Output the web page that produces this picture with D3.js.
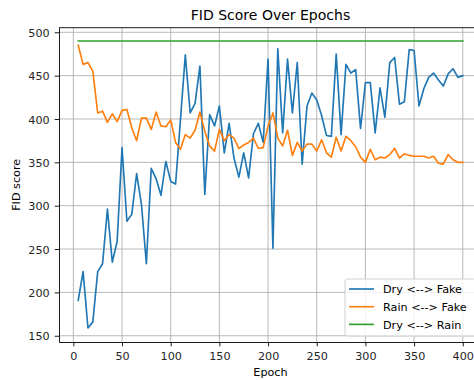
<!DOCTYPE html>
<html>
<head>
<meta charset="utf-8">
<script src="https://cdn.jsdelivr.net/npm/d3@7"></script>
<style>
  html, body { margin: 0; padding: 0; background: #fff; }
  svg { display: block; font-family: "DejaVu Sans", sans-serif; }
</style>
</head>
<body>
<svg id="chart" width="474" height="380"></svg>
<script>
const epochs = [5,10,15,20,25,30,35,40,45,50,55,60,65,70,75,80,85,90,95,100,
  105,110,115,120,125,130,135,140,145,150,155,160,165,170,175,180,185,190,195,200,
  205,210,215,220,225,230,235,240,245,250,255,260,265,270,275,280,285,290,295,300,
  305,310,315,320,325,330,335,340,345,350,355,360,365,370,375,380,385,390,395,400];

const dryFake = [191,224,159,166,224,233,296,235,259,367,282,290,337,301,233,343,331,312,351,328,
  325,399,474,407,418,461,313,405,392,415,361,395,355,333,361,332,383,395,373,469,
  251,481,384,469,407,465,348,415,430,422,404,381,380,475,382,463,453,457,389,442,
  442,384,436,402,465,471,417,420,480,479,415,435,448,453,445,438,452,458,448,450];

const rainFake = [485,463,465,455,407,409,396,406,397,410,411,390,375,401,401,388,408,392,391,399,
  373,365,382,378,387,408,386,369,363,388,375,382,378,366,370,373,378,366,367,392,
  407,378,369,387,358,373,363,371,371,363,376,361,356,379,363,380,375,368,356,350,
  365,353,356,355,359,366,355,360,358,357,357,357,355,357,349,348,359,353,350,350];

const dryRain = [490,490,490,490,490,490,490,490,490,490,490,490,490,490,490,490,490,490,490,490,
  490,490,490,490,490,490,490,490,490,490,490,490,490,490,490,490,490,490,490,490,
  490,490,490,490,490,490,490,490,490,490,490,490,490,490,490,490,490,490,490,490,
  490,490,490,490,490,490,490,490,490,490,490,490,490,490,490,490,490,490,490,490];

const seriesNames = ["Dry <--> Fake", "Rain <--> Fake", "Dry <--> Rain"];
const xTicks = [0,50,100,150,200,250,300,350,400];
const yTicks = [150,200,250,300,350,400,450,500];
const titleText = "FID Score Over Epochs";
const xLabel = "Epoch";
const yLabel = "FID score";

(function () {
const colors = ["#1f77b4", "#ff7f0e", "#2ca02c"];
const series = [dryFake, rainFake, dryRain];

const pL = 59, pR = 482, pT = 27.7, pB = 342;
const x = d3.scaleLinear().domain([-14.75, 419.75]).range([pL, pR]);
const y = d3.scaleLinear().domain([142.8, 505.3]).range([pB, pT]);

const svg = d3.select("#chart");

// grid
const grid = svg.append("g");
grid.selectAll("line.gx").data(xTicks).enter().append("line")
  .attr("x1", d => x(d)).attr("x2", d => x(d))
  .attr("y1", pT).attr("y2", pB)
  .attr("stroke", "#b0b0b0").attr("stroke-width", 0.9);
grid.selectAll("line.gy").data(yTicks).enter().append("line")
  .attr("x1", pL).attr("x2", pR)
  .attr("y1", d => y(d)).attr("y2", d => y(d))
  .attr("stroke", "#b0b0b0").attr("stroke-width", 0.9);

// lines
svg.append("clipPath").attr("id", "clip").append("rect")
  .attr("x", pL).attr("y", pT).attr("width", pR - pL).attr("height", pB - pT);
const line = d3.line().x((d, i) => x(epochs[i])).y(d => y(d));
const lines = svg.append("g").attr("clip-path", "url(#clip)");
series.forEach((s, k) => {
  lines.append("path").datum(s)
    .attr("d", line)
    .attr("fill", "none")
    .attr("stroke", colors[k])
    .attr("stroke-width", 1.65)
    .attr("stroke-linejoin", "round")
    .attr("stroke-linecap", "square");
});

// axes
const xAxis = d3.axisBottom(x).tickValues(xTicks).tickSize(4.3).tickPadding(4).tickSizeOuter(0);
const yAxis = d3.axisLeft(y).tickValues(yTicks).tickSize(4.3).tickPadding(5).tickSizeOuter(0);

const gx = svg.append("g").attr("transform", `translate(0,${pB})`).call(xAxis);
const gy = svg.append("g").attr("transform", `translate(${pL},0)`).call(yAxis);
[gx, gy].forEach(g => {
  g.select(".domain").attr("stroke", "#000").attr("stroke-width", 0.9);
  g.selectAll(".tick line").attr("stroke", "#000").attr("stroke-width", 0.9);
  g.selectAll(".tick text").attr("fill", "#262626").attr("font-size", 11.2)
    .attr("font-family", "DejaVu Sans");
});
gx.selectAll(".tick text").attr("dy", null).attr("y", 17.5);
gy.selectAll(".tick text").attr("dy", "0.36em");

// top & right spines
svg.append("line").attr("x1", pL).attr("x2", pR).attr("y1", pT).attr("y2", pT)
  .attr("stroke", "#000").attr("stroke-width", 0.9);
svg.append("line").attr("x1", pR).attr("x2", pR).attr("y1", pT).attr("y2", pB)
  .attr("stroke", "#000").attr("stroke-width", 0.9);

// title and labels
svg.append("text").attr("x", (pL + pR) / 2).attr("y", 20)
  .attr("text-anchor", "middle").attr("font-size", 14).attr("fill", "#000")
  .text(titleText);
svg.append("text").attr("x", (pL + pR) / 2).attr("y", 375.5)
  .attr("text-anchor", "middle").attr("font-size", 11.2).attr("fill", "#000")
  .text(xLabel);
svg.append("text").attr("transform", `translate(20.3,${(pT + pB) / 2}) rotate(-90)`)
  .attr("text-anchor", "middle").attr("font-size", 11.2).attr("fill", "#000")
  .text(yLabel);

// legend
const lg = svg.append("g");
lg.append("rect").attr("x", 345).attr("y", 279).attr("width", 131).attr("height", 57)
  .attr("rx", 2.5).attr("fill", "#fff").attr("fill-opacity", 0.8)
  .attr("stroke", "#cccccc").attr("stroke-width", 0.9);
seriesNames.forEach((name, k) => {
  const ly = 289 + k * 17.7;
  lg.append("line").attr("x1", 349).attr("x2", 374).attr("y1", ly).attr("y2", ly)
    .attr("stroke", colors[k]).attr("stroke-width", 1.65);
  lg.append("text").attr("x", 383).attr("y", ly + 4.2)
    .attr("font-size", 11.2).attr("fill", "#000").text(name);
});
})();
</script>
</body>
</html>
